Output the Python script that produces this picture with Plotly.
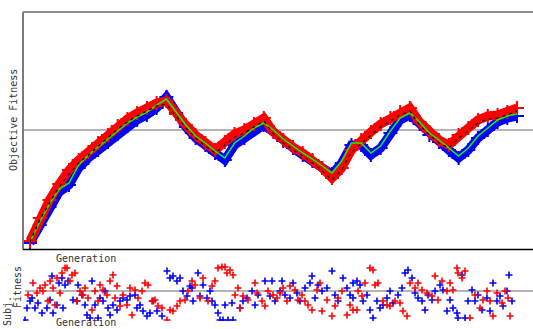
import plotly.graph_objects as go

# ---------------- Top panel: objective fitness (sampled every 10 generations) ----------------
generation = list(range(0, 501, 10))

obj_red = [8, 31, 49, 65, 79, 89, 97, 106, 114, 123,
           130, 136, 141, 146, 148, 135, 124, 114, 106, 99,
           107, 115, 119, 125, 131, 117, 109, 102, 96, 89,
           81, 71, 81, 99, 109, 117, 125, 131, 137, 141,
           127, 117, 109, 104, 114, 121, 129, 133, 134, 137,
           141]
obj_blue = [6, 24, 42, 57, 64, 81, 91, 99, 107, 115,
            123, 129, 134, 141, 152, 136, 122, 111, 104, 96,
            89, 104, 111, 119, 124, 117, 108, 101, 94, 88,
            81, 75, 86, 104, 104, 94, 101, 116, 129, 134,
            125, 114, 107, 99, 91, 99, 111, 119, 127, 131,
            133]
obj_green = [7, 27, 45, 60, 66, 84, 94, 102, 110, 118,
             126, 132, 137, 144, 150, 137, 124, 113, 106, 98,
             91, 106, 113, 121, 126, 119, 110, 103, 96, 90,
             83, 76, 88, 106, 106, 96, 103, 118, 131, 136,
             127, 116, 109, 101, 93, 101, 113, 121, 129, 133,
             135]
obj_black = [7, 29, 46, 62, 75, 86, 94, 103, 111, 120,
             127, 133, 138, 143, 145, 133, 121, 111, 103, 96,
             104, 112, 116, 122, 128, 115, 106, 99, 93, 86,
             78, 69, 79, 97, 106, 114, 122, 128, 134, 138,
             124, 114, 106, 101, 111, 118, 126, 130, 131, 134,
             138]
obj_reference = 119

# ---------------- Bottom panel: subjective fitness ----------------
subj_gen_blue = [25, 27, 30, 32, 35, 38, 42, 47, 50, 52, 53, 57, 59, 62, 63, 65, 68, 73, 77, 78,
                 82, 85, 87, 90, 92, 95, 98, 100, 103, 105, 108, 110, 113, 117, 120, 123, 127, 130, 135, 137,
                 140, 143, 147, 150, 153, 157, 162, 167, 170, 173, 177, 180, 183, 187, 190,
                 192, 193, 198, 200, 203, 207, 210, 212, 215, 218, 220, 223, 228, 233, 225, 232, 240, 243, 247, 252,
                 255, 258, 265, 270, 272, 275, 280, 282, 285, 290, 293, 297, 300, 305, 310, 312, 315, 318, 322, 327,
                 332, 335, 338, 343, 347, 350, 353, 357,
                 353, 360, 363, 367, 370, 373, 377, 380, 383, 387, 390, 393, 398, 402, 405, 408, 412, 415, 418, 422,
                 425, 428, 432, 435, 440, 443, 447, 450, 453, 457, 458, 462, 465, 468, 472, 475, 478, 482, 487, 490,
                 493, 497, 500, 503, 507, 509, 512]
subj_blue = [-29, -17, -10, -7, -17, -12, -22, -17, -9, 15, -22, -14, 8, 13, -17, 6, 10, -9, -10, 6,
             -4, -14, -24, -27, 10, -14, -27, -7, -10, 0, -17, -24, -14, -19, -10, -7, -9, -5, -4, -17,
             -14, -20, -25, -22, -10, -20, -25, 20, 13, 15, 10, 13, 0, -5, 5,
             3, -10, 18, -5, 6, -7, 0, -10, -14, -22, -29, -29, -29, -29, -14, -12, -17, -10, -7, 0,
             -14, -4, 10, -5, 10, -10, 0, 10, -4, -7, 8, -2, -10, 3, 8, 15, -7, 6, 0, 3,
             20, -4, -10, 13, 3, -4, 8, 10,
             -7, 6, -10, -4, -19, -27, -10, -17, -14, -7, 0, -12, -4, 3, 18, 21, 13, -2, -7, -10,
             -19, -4, -9, 0, 6, 1, -20, -9, -17, -22, -27, 16, -27, -10, 1, -10, -4, -19, -7, -20,
             8, -10, -5, -15, 0, 16, -10]

subj_gen_red = [28, 33, 37, 40, 43, 45, 48, 50, 53, 55, 57, 60, 62, 65, 67, 70, 72, 75, 77, 80,
                83, 85, 88, 92, 95, 98, 100, 103, 107, 110, 113, 115, 117, 120, 123, 127, 130, 132, 135, 138,
                142, 145, 148, 152, 155, 158, 162, 167, 170, 173, 177, 180, 185, 188, 192,
                195, 200, 203, 208, 212, 215, 218, 222, 225, 227, 230, 233, 235, 238, 240, 243, 248, 255, 257, 262,
                265, 268, 273, 277, 280, 283, 287, 290, 295, 298, 302, 305, 308, 312, 317, 320, 322, 327, 332, 335,
                338, 342, 347, 350, 353, 357,
                358, 362, 365, 370, 373, 375, 378, 383, 387, 390, 395, 400, 403, 407, 410, 415, 418, 422, 427, 432,
                435, 438, 442, 447, 450, 453, 457, 458, 462, 465, 470, 475, 480, 483, 487, 490, 493, 497, 502, 505,
                508, 510]
subj_red = [-4, 8, -2, 3, 0, 6, -10, 10, 3, -14, 13, -2, 18, 23, 23, 10, 16, 18, -10, 0,
            -4, 3, -7, -19, 0, -10, 6, 1, -4, 10, 16, -7, 5, -15, -4, -14, 3, -24, 1, -7,
            0, 8, 6, -10, -9, -15, -17, -29, -19, -20, -15, -10, -9, 0, 10,
            6, -7, 13, -10, 5, 10, 23, 24, 24, 18, 21, 16, -4, 3, -17, -5, -9, 8, -2, -10,
            -15, 0, -4, -7, -2, 3, -10, 5, 1, -9, -4, -10, -14, -19, 1, 8, -20, -9, -25, -15,
            -7, 0, -24, -14, -19, -19,
            0, -5, 8, 23, 21, 6, 8, -10, -14, -15, -10, -12, -20, -25, 8, 3, 8, 1, -2, -5,
            15, -9, 10, 0, 8, 1, 23, 18, 13, 20, -27, -4, -17, -9, 0, -10, -25, -2, -12, 0,
            -7, -25]
subj_reference = 0

RED, BLUE, GREEN, BLACK = "#ff0000", "#0000ff", "#00ff00", "#000000"
FONT = "DejaVu Sans Mono"
TXT = "#333333"
W, H = 533, 329

fig = go.Figure()

# top panel bands
fig.add_trace(go.Scatter(x=generation, y=obj_blue, mode="lines+markers",
                         line=dict(color=BLUE, width=9),
                         marker=dict(symbol="cross-thin", size=10, line=dict(color=BLUE, width=2)),
                         xaxis="x", yaxis="y", hoverinfo="skip"))
fig.add_trace(go.Scatter(x=generation, y=obj_red, mode="lines+markers",
                         line=dict(color=RED, width=9),
                         marker=dict(symbol="cross-thin", size=10, line=dict(color=RED, width=2)),
                         xaxis="x", yaxis="y", hoverinfo="skip"))
fig.add_trace(go.Scatter(x=generation, y=obj_green, mode="lines",
                         line=dict(color=GREEN, width=1.5),
                         xaxis="x", yaxis="y", hoverinfo="skip"))
fig.add_trace(go.Scatter(x=generation, y=obj_black, mode="lines",
                         line=dict(color=BLACK, width=1.2, dash="3px,4px"),
                         xaxis="x", yaxis="y", hoverinfo="skip"))

# bottom panel scatter
fig.add_trace(go.Scatter(x=subj_gen_blue, y=subj_blue, mode="markers",
                         marker=dict(symbol="cross-thin", size=5, line=dict(color=BLUE, width=1.6)),
                         xaxis="x2", yaxis="y2", hoverinfo="skip"))
fig.add_trace(go.Scatter(x=subj_gen_red, y=subj_red, mode="markers",
                         marker=dict(symbol="cross-thin", size=5, line=dict(color=RED, width=1.6)),
                         xaxis="x2", yaxis="y2", hoverinfo="skip"))

def px_x(p):
    return p / W

def px_y(p):
    return 1 - p / H

ax_common = dict(showgrid=False, zeroline=False, showticklabels=False, ticks="", showline=False)

def label(text, x, y, angle=0, xanchor="center", yanchor="middle"):
    return dict(text=text, xref="paper", yref="paper", x=px_x(x), y=px_y(y),
                textangle=angle, xanchor=xanchor, yanchor=yanchor, showarrow=False,
                borderpad=0, font=dict(family=FONT, size=10, color=TXT))

fig.update_layout(
    width=W, height=H,
    margin=dict(l=0, r=0, t=0, b=0),
    paper_bgcolor="white", plot_bgcolor="white",
    showlegend=False,
    xaxis=dict(domain=[px_x(23), 1], range=[-7.2, 516.4], **ax_common),
    yaxis=dict(domain=[px_y(249), px_y(12)], range=[0, 237], **ax_common),
    xaxis2=dict(domain=[px_x(23), 1], range=[23, 533], anchor="y2", **ax_common),
    yaxis2=dict(domain=[px_y(321), px_y(261)], range=[-30, 30], anchor="x2", **ax_common),
    shapes=[
        dict(type="line", xref="paper", yref="y", x0=px_x(23), x1=1, y0=obj_reference, y1=obj_reference,
             line=dict(color="#b4b4b4", width=2), layer="below"),
        dict(type="line", xref="paper", yref="y2", x0=px_x(25), x1=1, y0=subj_reference, y1=subj_reference,
             line=dict(color="#b4b4b4", width=2), layer="below"),
        dict(type="line", xref="paper", yref="paper", x0=px_x(23), x1=px_x(23), y0=px_y(249.5), y1=px_y(12),
             line=dict(color="#7a7a7a", width=2)),
        dict(type="line", xref="paper", yref="paper", x0=px_x(23), x1=1, y0=px_y(12), y1=px_y(12),
             line=dict(color="#8c8c8c", width=2)),
        dict(type="line", xref="paper", yref="paper", x0=px_x(23), x1=1, y0=px_y(249.5), y1=px_y(249.5),
             line=dict(color="#000000", width=1.5)),
    ],
    annotations=[
        label("Objective Fitness", 13, 120, angle=-90),
        label("Generation", 55, 258, xanchor="left"),
        label("Subj.", 7, 311, angle=-90),
        label("Fitness", 17, 287, angle=-90),
        label("Generation", 55, 329, xanchor="left", yanchor="bottom"),
    ],
)

fig.write_html("out.html", config={"displayModeBar": False},
               post_script="document.body.style.margin='0';document.body.style.overflow='hidden';")
